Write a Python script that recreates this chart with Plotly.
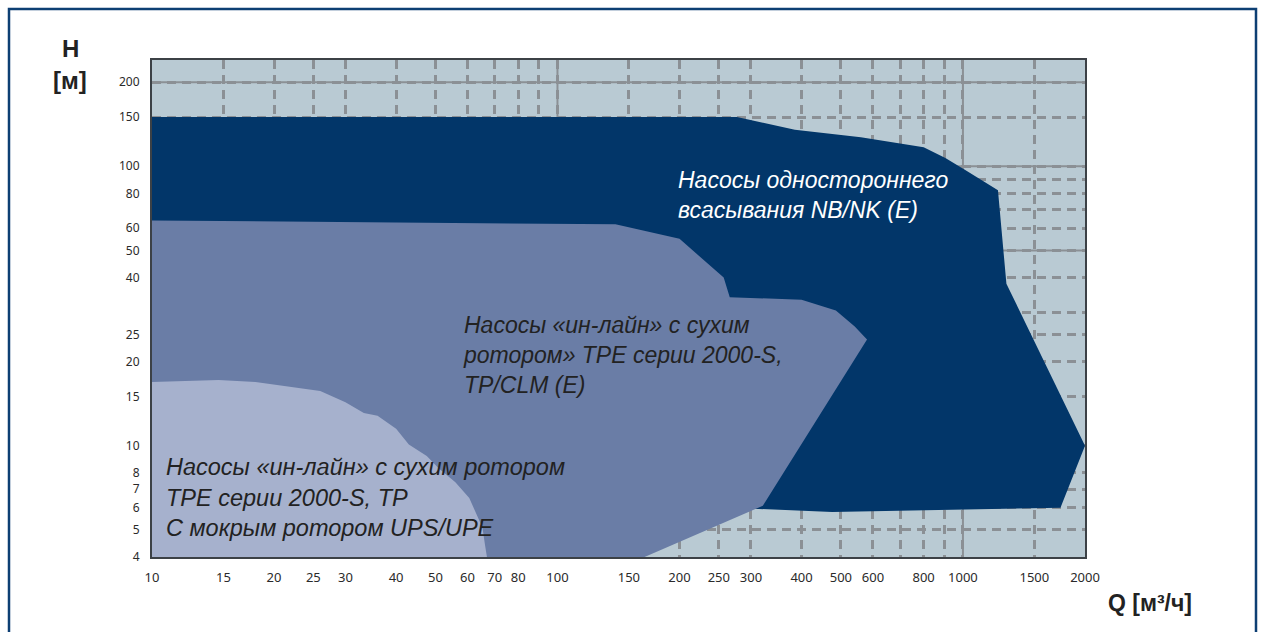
import math
import plotly.graph_objects as go

# ---------------- data ----------------
# Q [m3/h] and H [m] outlines of the three pump ranges
nb_q = [10, 277, 385, 560, 800, 905, 1013, 1220, 1280, 2000, 1740, 476, 305, 10]
nb_h = [150, 150, 135, 127, 117, 107, 97, 82, 38, 10, 6.0, 5.8, 5.95, 5.95]

tp_q = [10, 139, 200, 225, 257, 266, 400, 486, 541, 580, 321, 164, 10]
tp_h = [64, 62, 55, 47.5, 40, 34, 33.3, 30.5, 26.7, 24, 6.1, 4, 4]

ups_q = [10, 14.6, 18, 26, 30, 33.3, 36, 40, 43, 45.3, 47.6, 51, 56, 60.6, 62.8, 65.3, 66.3, 67, 10]
ups_h = [16.9, 17.2, 16.9, 15.7, 14.3, 13.1, 12.8, 11.5, 10.1, 9.6, 9.2, 8.3, 7.4, 6.5, 5.8, 5.1, 4.4, 4, 4]

x_tickvals = [10, 15, 20, 25, 30, 40, 50, 60, 70, 80, 90, 100, 150, 200, 250, 300,
              400, 500, 600, 700, 800, 900, 1000, 1500, 2000]
x_ticktext = ["10", "15", "20", "25", "30", "40", "50", "60", "70", "80", " ", "100", "150",
              "200", "250", "300", "400", "500", "600", " ", "800", " ", "1000", "1500", "2000"]
y_tickvals = [4, 5, 6, 7, 8, 10, 15, 20, 25, 30, 40, 50, 60, 70, 80, 90, 100, 150, 200]
y_ticktext = ["4", "5", "6", "7", "8", "10", "15", "20", "25", " ", "40", "50", "60", " ",
              "80", " ", "100", "150", "200"]
x_solid = [100, 1000]
y_solid = [10, 50, 100, 200]

label_nb = "Насосы одностороннего<br>всасывания NB/NK (E)"
label_tp = "Насосы «ин-лайн» с сухим<br>ротором» TPE серии 2000-S,<br>TP/CLM (E)"
label_ups = "Насосы «ин-лайн» с сухим ротором<br>TPE серии 2000-S, TP<br>С мокрым ротором UPS/UPE"

# ---------------- styles ----------------
C_NB = "#023669"
C_TP = "#6a7da6"
C_UPS = "#a6b1cd"
C_BG = "#b9cad3"
C_GRID = "#8b9095"
TEXT_FONT = "Liberation Sans, Arial, Helvetica, sans-serif"
TICK_FONT = "Noto Sans, Open Sans, sans-serif"

fig = go.Figure()
for q, h, c in [(nb_q, nb_h, C_NB), (tp_q, tp_h, C_TP), (ups_q, ups_h, C_UPS)]:
    fig.add_trace(go.Scatter(x=q, y=h, mode="lines", fill="toself", fillcolor=c,
                             line=dict(width=0, color=c), hoverinfo="skip", showlegend=False))

W, H = 1264, 632
L, R, T, B = 152, 179, 60, 75
pw, ph = W - L - R, H - T - B


def px(x):
    return (x - L) / pw


def py(y):
    return 1 - (y - T) / ph


axis_common = dict(type="log", showgrid=True, gridcolor=C_GRID, gridwidth=2.5,
                   griddash="9px,6px", zeroline=False, showline=True, linecolor="#3c4146",
                   linewidth=2, mirror=True, ticks="", tickmode="array", tickangle=0)

fig.update_xaxes(range=[math.log10(10), math.log10(2000)], tickvals=x_tickvals,
                 ticktext=x_ticktext, ticklabelstandoff=7,
                 tickfont=dict(family=TICK_FONT, size=13, color="#2a2a2a"), **axis_common)
fig.update_yaxes(range=[math.log10(4), math.log10(240)], tickvals=y_tickvals,
                 ticktext=y_ticktext, ticklabelstandoff=8,
                 tickfont=dict(family=TICK_FONT, size=12, color="#2a2a2a"), **axis_common)

shapes = []
for v in x_solid:
    shapes.append(dict(type="line", xref="x", yref="paper", x0=v, x1=v, y0=0, y1=1,
                       layer="below", line=dict(color=C_GRID, width=2)))
for v in y_solid:
    shapes.append(dict(type="line", xref="paper", yref="y", x0=0, x1=1, y0=v, y1=v,
                       layer="below", line=dict(color=C_GRID, width=2)))
# outer frame
shapes.append(dict(type="rect", xref="paper", yref="paper", x0=px(9), x1=px(1256),
                   y0=py(650), y1=py(9), layer="above",
                   line=dict(color="#0d3f73", width=2.5), fillcolor="rgba(0,0,0,0)"))

annotations = [
    dict(text=label_nb, x=px(676), y=py(195), xref="paper", yref="paper", xanchor="left",
         yanchor="middle", align="left", showarrow=False,
         font=dict(family=TEXT_FONT, size=23, color="white", style="italic")),
    dict(text=label_tp, x=px(461), y=py(355), xref="paper", yref="paper", xanchor="left",
         yanchor="middle", align="left", showarrow=False,
         font=dict(family=TEXT_FONT, size=23, color="#222222", style="italic")),
    dict(text=label_ups, x=px(164), y=py(497), xref="paper", yref="paper", xanchor="left",
         yanchor="middle", align="left", showarrow=False,
         font=dict(family=TEXT_FONT, size=23.5, color="#222222", style="italic")),
    dict(text="<b>H</b>", x=px(70), y=py(49), xref="paper", yref="paper", xanchor="center",
         yanchor="middle", showarrow=False,
         font=dict(family=TEXT_FONT, size=24, color="#222222")),
    dict(text="<b>[м]</b>", x=px(70), y=py(81), xref="paper", yref="paper", xanchor="center",
         yanchor="middle", showarrow=False,
         font=dict(family=TEXT_FONT, size=24, color="#222222")),
    dict(text="<b>Q [м³/ч]</b>", x=px(1150), y=py(603), xref="paper", yref="paper",
         xanchor="center", yanchor="middle", showarrow=False,
         font=dict(family=TEXT_FONT, size=23, color="#222222")),
]

fig.update_layout(width=W, height=H, margin=dict(l=L, r=R, t=T, b=B),
                  plot_bgcolor=C_BG, paper_bgcolor="white", showlegend=False,
                  shapes=shapes, annotations=annotations)

fig.write_html("out.html", config={"displayModeBar": False},
               post_script="document.body.style.margin='0';"
                           "document.body.style.overflow='hidden';")
